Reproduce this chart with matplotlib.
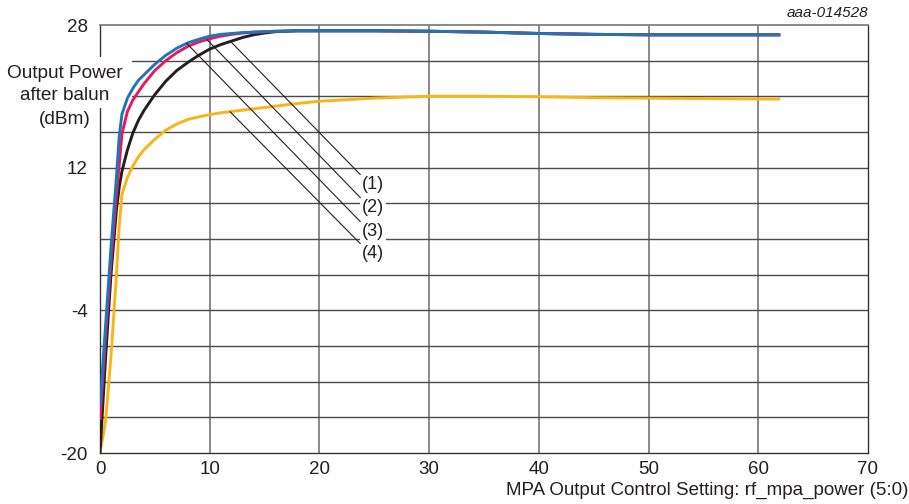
import numpy as np
import matplotlib
matplotlib.use("Agg")
import matplotlib.pyplot as plt
from matplotlib.patches import Rectangle

plt.rcParams['font.family'] = ['Liberation Sans', 'DejaVu Sans']
plt.rcParams['axes.unicode_minus'] = False

# ---------------- data ----------------
x_vals = [0, 0.5, 1, 1.5, 1.75, 2, 2.5, 3, 3.5, 4, 5, 6, 7, 8, 9, 10, 11, 12, 13, 14,
          15, 16, 18, 20, 25, 30, 35, 40, 45, 50, 55, 60, 62]

blue_1 = [-14.8, -5.8, 3.0, 11.0, 15.5, 18.0, 19.8, 20.9, 21.8, 22.4, 23.6, 24.6, 25.4,
          26.0, 26.4, 26.75, 26.95, 27.05, 27.15, 27.2, 27.25, 27.3, 27.35, 27.35,
          27.35, 27.3, 27.2, 27.05, 26.95, 26.9, 26.9, 26.9, 26.9]
red_2 = [-16.3, -7.0, 1.5, 9.0, 12.3, 15.8, 18.3, 19.6, 20.5, 21.4, 22.9, 24.0, 24.9,
         25.6, 26.1, 26.45, 26.75, 26.95, 27.1, 27.2, 27.25, 27.3, 27.35, 27.35,
         27.35, 27.3, 27.2, 27.05, 26.95, 26.9, 26.9, 26.9, 26.9]
black_3 = [-20.0, -9.5, 0.0, 7.3, 9.8, 11.6, 14.0, 15.9, 17.3, 18.4, 20.2, 21.7, 22.9,
           23.8, 24.6, 25.3, 25.8, 26.2, 26.6, 26.9, 27.1, 27.25, 27.35, 27.35,
           27.35, 27.3, 27.2, 27.05, 26.95, 26.9, 26.9, 26.9, 26.9]
orange_4 = [-20.0, -16.5, -9.2, 0.0, 5.5, 9.0, 10.9, 12.2, 13.2, 14.0, 15.2, 16.2, 16.9,
            17.4, 17.7, 17.95, 18.15, 18.3, 18.45, 18.6, 18.75, 18.9, 19.2, 19.45,
            19.8, 20.0, 20.0, 19.95, 19.85, 19.8, 19.75, 19.7, 19.7]

series_labels = ["(1)", "(2)", "(3)", "(4)"]
# x on the curve where each leader line starts, and label position
leader_x = [11.9, 9.75, 7.9, 11.85]
label_x = [24.9, 24.9, 24.9, 24.9]
label_y = [10.06, 7.48, 4.79, 2.32]

x_ticks = [0, 10, 20, 30, 40, 50, 60, 70]
y_ticks = [28, 12, -4, -20]
y_tick_labels = ["28", "12", "-4", "-20"]

# ---------------- figure ----------------
fig = plt.figure(figsize=(9.09, 5.04), dpi=100)
ax = fig.add_axes([100/909, 51/504, 768/909, 428/504])
ax.set_xlim(0, 70)
ax.set_ylim(-20, 28)

# grid
for gx in range(10, 70, 10):
    ax.axvline(gx, color='#808080', lw=1.3, zorder=0.5)
for gy in range(-16, 28, 4):
    ax.axhline(gy, color='#4a4a4a', lw=1.0, zorder=0.5)

for s in ['left', 'bottom', 'right']:
    ax.spines[s].set_color('#333333')
    ax.spines[s].set_linewidth(1.0)
ax.spines['top'].set_color('#808080')
ax.spines['top'].set_linewidth(1.3)

ax.set_xticks(x_ticks)
ax.set_xticklabels([str(v) for v in x_ticks])
ax.set_yticks(y_ticks)
ax.set_yticklabels(y_tick_labels)
ax.tick_params(axis='both', length=0, labelsize=13.5, colors='#231f20')
ax.tick_params(axis='y', pad=9)
ax.tick_params(axis='x', pad=6)

# white box behind y-label
ax.add_patch(Rectangle((-0.14, 0.806), 0.14 + 32/768, 0.925 - 0.806,
                       transform=ax.transAxes, facecolor='white',
                       edgecolor='none', clip_on=False, zorder=2.6))

xs = np.array(x_vals)
curves = [np.array(blue_1), np.array(red_2), np.array(black_3), np.array(orange_4)]
colors = ['#1f75bb', '#e6195c', '#231f20', '#fbb416']
draw_order = [3, 2, 1, 0]
for i in draw_order:
    ax.plot(xs, curves[i], color=colors[i], lw=2.1, zorder=3 + (3 - i) * 0.1,
            solid_capstyle='butt', solid_joinstyle='round')

# leader lines: (1)->black, (2)->red, (3)->blue, (4)->orange
leader_curve = [2, 1, 0, 3]
for k in range(4):
    ci = leader_curve[k]
    y_anchor = np.interp(leader_x[k], xs, curves[ci])
    ax.annotate(series_labels[k], xy=(leader_x[k], y_anchor),
                xytext=(label_x[k], label_y[k]), ha='center', va='center',
                fontsize=13, color='#231f20', zorder=4,
                bbox=dict(boxstyle='square,pad=0.1', fc='white', ec='none'),
                arrowprops=dict(arrowstyle='-', color='#231f20', lw=0.8,
                                shrinkA=0, shrinkB=0, relpos=(0.0, 1.0)))

# y-axis label
for txt, ypx in [("Output Power", 73), ("after balun", 96), ("(dBm)", 119)]:
    fig.text(65/909, 1 - ypx/504, txt, ha='center', va='center',
             fontsize=13.7, color='#231f20', zorder=5)

fig.text(908/909, 1 - 490/504, "MPA Output Control Setting: rf_mpa_power (5:0)",
         ha='right', va='center', fontsize=13.5, color='#231f20')
fig.text(868/909, 1 - 13/504, "aaa-014528", ha='right', va='center',
         fontsize=11, style='italic', color='#231f20')

fig.savefig("out.png", dpi=100)
